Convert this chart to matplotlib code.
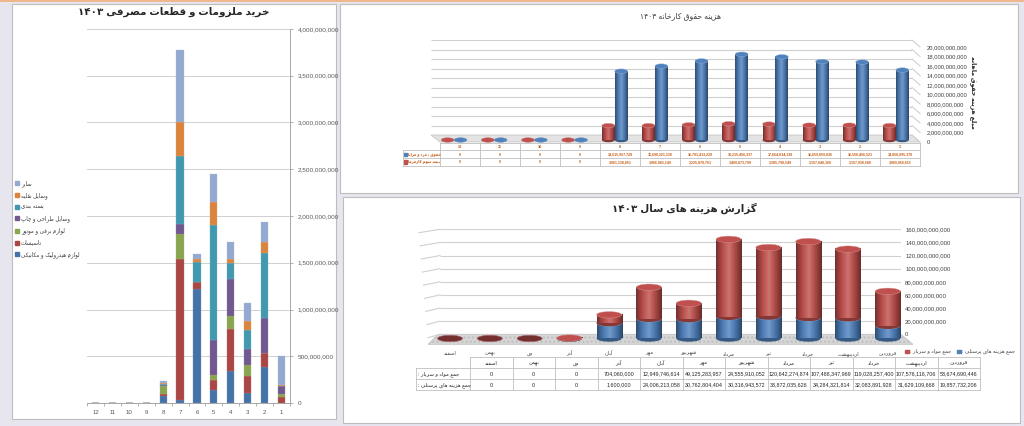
import re
import numpy as np
import matplotlib
matplotlib.use("Agg")
import matplotlib.pyplot as plt
from matplotlib.colors import LinearSegmentedColormap, to_rgb
from matplotlib.patches import Ellipse, Rectangle, Polygon
from matplotlib.lines import Line2D
from matplotlib.ticker import FuncFormatter
from matplotlib.transforms import blended_transform_factory

plt.rcParams["font.family"] = ["Liberation Sans", "DejaVu Sans"]

W, H = 1024, 426

# --- left chart: purchases of consumables (millions of rials), months 12 -> 1
purchase_title = "خرید ملزومات و قطعات مصرفی ۱۴۰۳"
purchase_months = ["12", "11", "10", "9", "8", "7", "6", "5", "4", "3", "2", "1"]
hydraulic = [0, 0, 0, 0, 71, 36, 1217, 143, 339, 107, 386, 0]
facilities = [0, 0, 0, 0, 21, 1503, 72, 107, 457, 182, 153, 64]
electrical = [0, 0, 0, 0, 86, 264, 0, 46, 139, 122, 0, 36]
printing = [0, 0, 0, 0, 14, 111, 0, 375, 386, 171, 371, 82]
packing = [0, 0, 0, 0, 6, 725, 214, 1232, 171, 203, 689, 0]
vehicles = [0, 0, 0, 0, 14, 371, 36, 244, 43, 90, 122, 11]
other = [0, 0, 0, 0, 18, 766, 53, 304, 182, 196, 210, 307]
purchase_names = ["لوازم هیدرولیک و مکانیکی", "تاسیسات", "لوازم برقی و موتور",
                  "وسایل طراحی و چاپ", "بسته بندی", "وسایل نقلیه", "سایر"]
purchase_colors = ["#4572A7", "#AA4643", "#89A54E", "#71588F", "#4198AF", "#DB843D", "#93A9CF"]

# --- top right: factory salary cost, months 12 -> 1
salary_title = "هزینه حقوق کارخانه ۱۴۰۳"
salary_axis_title = "مبلغ هزینه حقوق ماهانه"
salary_months = ["12", "11", "10", "9", "8", "7", "6", "5", "4", "3", "2", "1"]
salary = [0, 0, 0, 0, 14_615_957_728, 15_690_321_130, 16_791_413_229, 18_215_456_337,
          17_664_814_138, 16_659_859_836, 16_550_456_521, 14_858_895_378]
insurance = [0, 0, 0, 0, 3_061_138_851, 3_066_083_149, 3_225_878_761, 3_460_873_799,
             3_385_798_549, 3_157_048_160, 3_157_038_580, 3_069_050_833]
salary_names = ["حقوق ، مزد و مزایا", "بیمه سهم کارفرما"]

# --- bottom right: cost report per month
cost_title = "گزارش هزینه های سال ۱۴۰۳"
cost_months = ["اسفند", "بهمن", "دی", "آذر", "آبان", "مهر", "شهریور", "مرداد",
               "تیر", "خرداد", "اردیبهشت", "فروردین"]
materials = [0, 0, 0, 704_060_000, 12_949_746_614, 49_125_283_957, 24_555_910_052,
             120_642_274_874, 107_488_347_969, 119_028_257_400, 107_576_116_706, 53_674_690_446]
personnel = [0, 0, 0, 1_600_000, 24_006_213_058, 30_762_804_404, 30_316_943_572,
             33_872_035_626, 34_284_321_814, 32_083_891_928, 31_629_109_668, 19_857_732_206]
cost_names = ["جمع مواد و سربار :", "جمع هزینه های پرسنلی :"]

BLUE, RED = "#4F81BD", "#C0504D"
GRID = "#D0D0D0"

# ---------- persian shaping (matplotlib has no bidi / joining) ----------
FORMS = {
    "ا": "\ufe8d\ufe8e", "آ": "\ufe81\ufe82", "د": "\ufea9\ufeaa", "ذ": "\ufeab\ufeac",
    "ر": "\ufead\ufeae", "ز": "\ufeaf\ufeb0", "ژ": "\ufb8a\ufb8b", "و": "\ufeed\ufeee",
    "ب": "\ufe8f\ufe90\ufe91\ufe92", "پ": "\ufb56\ufb57\ufb58\ufb59",
    "ت": "\ufe95\ufe96\ufe97\ufe98", "ث": "\ufe99\ufe9a\ufe9b\ufe9c",
    "ج": "\ufe9d\ufe9e\ufe9f\ufea0", "چ": "\ufb7a\ufb7b\ufb7c\ufb7d",
    "ح": "\ufea1\ufea2\ufea3\ufea4", "خ": "\ufea5\ufea6\ufea7\ufea8",
    "س": "\ufeb1\ufeb2\ufeb3\ufeb4", "ش": "\ufeb5\ufeb6\ufeb7\ufeb8",
    "ص": "\ufeb9\ufeba\ufebb\ufebc", "ض": "\ufebd\ufebe\ufebf\ufec0",
    "ط": "\ufec1\ufec2\ufec3\ufec4", "ظ": "\ufec5\ufec6\ufec7\ufec8",
    "ع": "\ufec9\ufeca\ufecb\ufecc", "غ": "\ufecd\ufece\ufecf\ufed0",
    "ف": "\ufed1\ufed2\ufed3\ufed4", "ق": "\ufed5\ufed6\ufed7\ufed8",
    "ک": "\ufb8e\ufb8f\ufb90\ufb91", "گ": "\ufb92\ufb93\ufb94\ufb95",
    "ل": "\ufedd\ufede\ufedf\ufee0", "م": "\ufee1\ufee2\ufee3\ufee4",
    "ن": "\ufee5\ufee6\ufee7\ufee8", "ه": "\ufee9\ufeea\ufeeb\ufeec",
    "ی": "\ufbfc\ufbfd\ufbfe\ufbff",
}


def fa(text):
    out = []
    for i, ch in enumerate(text):
        f = FORMS.get(ch)
        if f is None:
            out.append(ch)
            continue
        prev = FORMS.get(text[i - 1]) if i > 0 else None
        nxt = FORMS.get(text[i + 1]) if i + 1 < len(text) else None
        after = prev is not None and len(prev) == 4
        before = nxt is not None and len(f) == 4
        out.append(f[3 if after and before else 1 if after else 2 if before else 0])
    s = "".join(out)
    runs = re.findall(r"[0-9\u06f0-\u06f9][0-9\u06f0-\u06f9,.]*|[^0-9\u06f0-\u06f9]+", s)
    return "".join(r if r[0].isdigit() else r[::-1] for r in reversed(runs))


def tone(color, f):
    c = np.array(to_rgb(color))
    return tuple(c * f) if f <= 1 else tuple(c + (1 - c) * (f - 1))


def box(x0, y0, x1, y1):
    return [x0 / W, 1 - y1 / H, (x1 - x0) / W, (y1 - y0) / H]


def ftext(x, y, s, **kw):
    fig.text(x / W, 1 - y / H, s, **kw)


def money(v, _=None):
    return f"{v:,.0f}"


def cylinders(ax, xs, heights, bottoms, width, color, cap_h, z, empty_tone=1.0):
    cmap = LinearSegmentedColormap.from_list(
        "cyl", [tone(color, 0.6), tone(color, 0.95), tone(color, 1.2), tone(color, 0.9), tone(color, 0.55)])
    grad = np.linspace(0, 1, 80).reshape(1, -1)
    bars = ax.bar(xs, heights, width, bottom=bottoms, color="none", linewidth=0)
    for p in bars:
        x, y, w, h = p.get_x(), p.get_y(), p.get_width(), p.get_height()
        ax.add_patch(Ellipse((x + w / 2, y), w, cap_h, facecolor=tone(color, 0.7), lw=0,
                             zorder=z, clip_on=False))
        if h > 0:
            ax.imshow(grad, extent=(x, x + w, y, y + h), cmap=cmap, aspect="auto",
                      zorder=z + 0.1, interpolation="bilinear")
        cap = tone(color, 1.0 if y + h > 0 else empty_tone)
        ax.add_patch(Ellipse((x + w / 2, y + h), w, cap_h, facecolor=cap,
                             edgecolor=tone(color, 1.4), lw=0.3, zorder=z + 0.2, clip_on=False))


def table(ax, header, rows, label_w, fs, color, weight, head_fs):
    n = len(header)
    nr = len(rows)
    for r in range(nr + 2):
        ax.plot([0 if r == 0 else -label_w, n], [r, r], color="#BFBFBF", lw=0.6, clip_on=False)
    for c in range(n + 1):
        ax.plot([c, c], [0, nr + 1], color="#BFBFBF", lw=0.6, clip_on=False)
    ax.plot([-label_w, -label_w], [1, nr + 1], color="#BFBFBF", lw=0.6, clip_on=False)
    for c, hd in enumerate(header):
        ax.text(c + 0.5, 0.55, hd, ha="center", va="center", fontsize=head_fs,
                color=color, fontweight=weight)
        for r, vals in enumerate(rows):
            ax.text(c + 0.5, r + 1.55, money(vals[c]), ha="center", va="center",
                    fontsize=fs, color=color, fontweight=weight)
    ax.set_xlim(0, n)
    ax.set_ylim(nr + 1, 0)
    ax.axis("off")


fig = plt.figure(figsize=(W / 100, H / 100), dpi=100, facecolor="#E7E5EE")
for x0, y0, x1, y1 in [(12, 4, 336, 419), (340, 4, 1018, 193), (343, 197, 1020, 423)]:
    fig.add_artist(Rectangle((x0 / W, 1 - y1 / H), (x1 - x0) / W, (y1 - y0) / H,
                             transform=fig.transFigure, facecolor="white",
                             edgecolor="#BDBDBD", lw=0.8, zorder=-5))
fig.add_artist(Line2D([0, 1], [1 - 1.2 / H] * 2, color="#F4B183", lw=1.3))

# ================= left: stacked purchases =================
ax1 = fig.add_axes(box(87, 29, 290, 403))
ax1.set_facecolor("none")
xs = np.arange(len(purchase_months))
base = np.zeros(len(xs))
purchase_series = [hydraulic, facilities, electrical, printing, packing, vehicles, other]
for vals, col in zip(purchase_series, purchase_colors):
    v = np.array(vals) * 1e6
    ax1.bar(xs, v, 0.42, bottom=base, color=col, edgecolor=tone(col, 1.25), linewidth=0.25, zorder=3)
    base += v
ax1.set_xlim(-0.5, 11.5)
ax1.set_ylim(0, 4e9)
ax1.set_yticks(np.arange(0, 4.01e9, 5e8))
ax1.yaxis.tick_right()
ax1.yaxis.set_major_formatter(FuncFormatter(money))
ax1.tick_params(axis="y", length=2.5, width=0.6, color="#A6A6A6", labelsize=4.6,
                labelcolor="#595959", pad=3)
ax1.set_xticks(xs, purchase_months)
ax1.set_xticks(np.arange(-0.5, 12, 1), minor=True)
ax1.tick_params(axis="x", which="major", length=0, labelsize=4.4, labelcolor="#595959", pad=5)
ax1.tick_params(axis="x", which="minor", length=2.5, width=0.6, color="#A6A6A6")
ax1.grid(axis="y", color=GRID, lw=0.7, zorder=0)
for s in ("left", "top"):
    ax1.spines[s].set_visible(False)
for s in ("right", "bottom"):
    ax1.spines[s].set_color("#A6A6A6")
    ax1.spines[s].set_linewidth(0.7)
ftext(174, 12, fa(purchase_title), ha="center", va="center", fontsize=7.5, fontweight="bold",
      color="#262626")
handles = [Rectangle((0, 0), 1, 1, color=c) for c in purchase_colors[::-1]]
fig.legend(handles, [fa(n) for n in purchase_names[::-1]], loc="upper left",
           bbox_to_anchor=(15 / W, 1 - 180 / H), frameon=False, fontsize=4.0,
           handlelength=0.7, handleheight=0.7, handletextpad=0.4, labelspacing=1.0,
           borderaxespad=0, borderpad=0, labelcolor="#404040")

# ================= top right: salary cylinders =================
axw2 = fig.add_axes(box(431, 40, 912, 135))
axw2.set_xlim(0, 1)
axw2.set_ylim(0, 20e9)
ticks2 = np.arange(0, 20.01e9, 2e9)
axw2.hlines(ticks2, 0, 1, color=GRID, lw=0.8)
bl2 = blended_transform_factory(axw2.transAxes, axw2.transData)
for t in ticks2:
    axw2.plot([1, 1 + 8 / 481], [t, t - 7 / 95 * 20e9], transform=bl2, color=GRID, lw=0.8,
              clip_on=False)
axw2.add_patch(Polygon([(0, 0), (1, 0), (1 + 8 / 481, -7 / 95), (9 / 481, -7 / 95)],
                       closed=True, transform=axw2.transAxes, facecolor="#E3E3E3",
                       edgecolor="#BFBFBF", lw=0.5, clip_on=False))
axw2.axis("off")

axt2 = fig.add_axes(box(431, 47, 920, 142))
axt2.set_ylim(0, 20e9)
axt2.set_yticks(ticks2)
axt2.yaxis.tick_right()
axt2.yaxis.set_major_formatter(FuncFormatter(money))
axt2.tick_params(axis="y", length=0, labelsize=4.2, labelcolor="#404040", pad=5)
axt2.set_xticks([])
axt2.set_facecolor("none")
for s in axt2.spines.values():
    s.set_visible(False)

axb2 = fig.add_axes(box(434, 45.8, 916, 140))
axb2.set_facecolor("none")
xs2 = np.arange(len(salary_months))
cylinders(axb2, xs2 - 0.16, insurance, 0, 0.32, RED, 0.95e9, 3)
cylinders(axb2, xs2 + 0.16, salary, 0, 0.32, BLUE, 0.95e9, 5)
axb2.set_xlim(-0.5, 11.5)
axb2.set_ylim(0, 20e9)
axb2.axis("off")

ftext(681, 16, fa(salary_title), ha="center", va="center", fontsize=5.5, color="#404040")
ftext(973, 92, fa(salary_axis_title), ha="center", va="center", fontsize=4.5,
      fontweight="bold", rotation=270, color="#262626")

axtb2 = fig.add_axes(box(440, 142.7, 920, 165.7))
table(axtb2, salary_months, [salary, insurance], 37 / 40, 2.5, "#C55A11", "bold", 2.8)
for r, (name, col) in enumerate(zip(salary_names, [BLUE, RED])):
    axtb2.add_patch(Rectangle((-0.89, r + 1.3), 0.07, 0.42, color=col, clip_on=False))
    axtb2.text(-0.8, r + 1.55, fa(name), ha="left", va="center", fontsize=2.6,
               color="#C55A11", fontweight="bold", clip_on=False)

# ================= bottom right: cost report =================
axw3 = fig.add_axes(box(440, 229.3, 901, 334.3))
axw3.set_xlim(0, 1)
axw3.set_ylim(0, 160e9)
ticks3 = np.arange(0, 160.01e9, 20e9)
axw3.hlines(ticks3, 0, 1, color=GRID, lw=0.8)
bl3 = blended_transform_factory(axw3.transAxes, axw3.transData)
for t in ticks3:
    dx = (12 + 9 * t / 160e9) / 461
    axw3.plot([0, -dx], [t, t - 3.4 / 105 * 160e9], transform=bl3, color=GRID, lw=0.8,
              clip_on=False)
axw3.add_patch(Polygon([(-2 / 461, 0), (1, 0), (1 + 12 / 461, -10 / 105), (-12 / 461, -10 / 105)],
                       closed=True, transform=axw3.transAxes, facecolor="#D6D6D6",
                       edgecolor="#BFBFBF", lw=0.5, hatch="....", clip_on=False))
axw3.set_yticks(ticks3)
axw3.yaxis.tick_right()
axw3.yaxis.set_major_formatter(FuncFormatter(money))
axw3.tick_params(axis="y", length=0, labelsize=4.3, labelcolor="#404040", pad=3)
axw3.set_xticks([])
axw3.set_facecolor("none")
for s in axw3.spines.values():
    s.set_visible(False)

axb3 = fig.add_axes(box(430.1, 235.8, 907.7, 338.5))
axb3.set_facecolor("none")
xs3 = np.arange(len(cost_months))
cylinders(axb3, xs3, personnel, 0, 0.63, BLUE, 10e9, 3)
cylinders(axb3, xs3, materials, personnel, 0.63, RED, 10e9, 5, empty_tone=0.6)
axb3.set_xlim(-0.5, 11.5)
axb3.set_ylim(0, 160e9)
axb3.set_xticks(xs3, [fa(m) for m in cost_months])
axb3.tick_params(axis="x", length=0, labelsize=3.8, labelcolor="#404040", pad=9)
axb3.set_yticks([])
for s in axb3.spines.values():
    s.set_visible(False)

ftext(684, 208, fa(cost_title), ha="center", va="center", fontsize=7.5, fontweight="bold",
      color="#262626")
for (x, col), name in zip([(957, BLUE), (905, RED)], cost_names[::-1]):
    fig.add_artist(Rectangle((x / W, 1 - 353 / H), 3.5 / W, 3.5 / H, transform=fig.transFigure,
                             color=col))
    ftext(x + 5, 351.2, fa(name), ha="left", va="center", fontsize=3.8, color="#404040")

axtb3 = fig.add_axes(box(470, 357, 980, 390))
table(axtb3, [fa(m) for m in cost_months], [materials, personnel], 54 / 42.5, 3.9, "#262626",
      "normal", 3.8)
for r, name in enumerate(cost_names):
    axtb3.text(-54 / 42.5 + 0.05, r + 1.55, fa(name), ha="left", va="center", fontsize=3.8,
               color="#262626", clip_on=False)

fig.savefig("out.png", dpi=100, facecolor=fig.get_facecolor())
